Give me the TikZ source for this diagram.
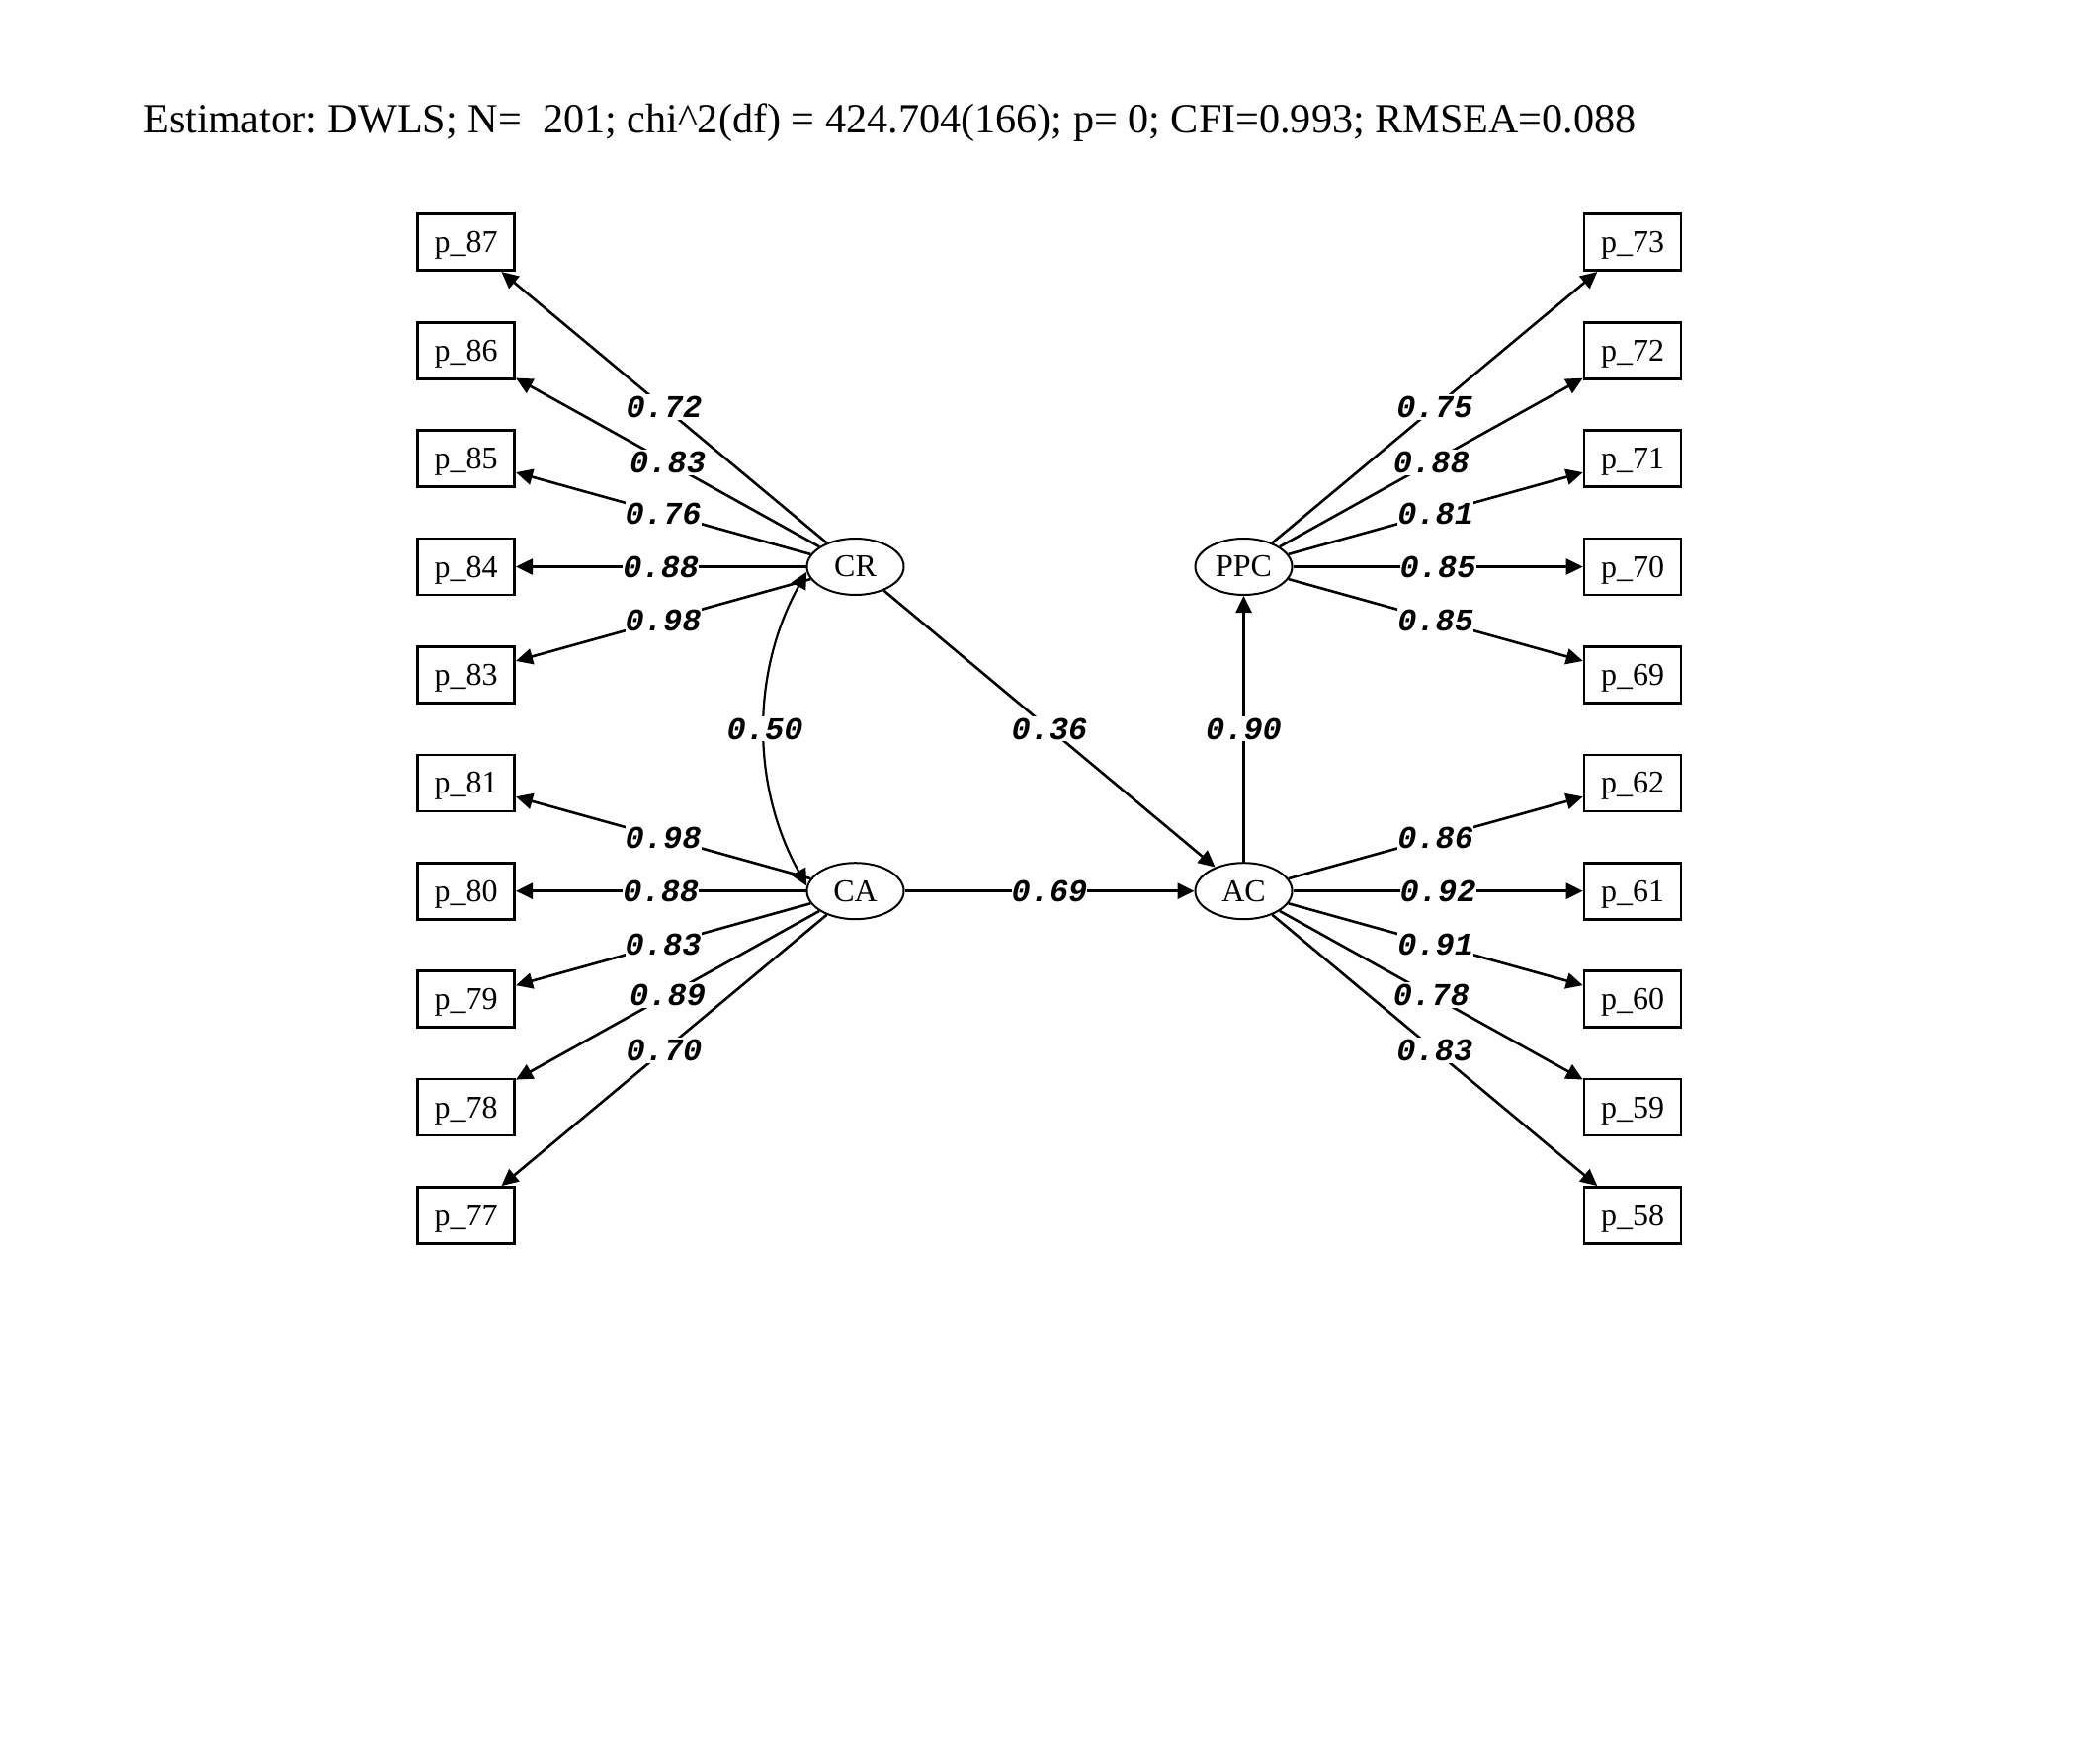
\documentclass[tikz,border=0pt]{standalone}
\usepackage{fontspec}
\setmainfont{Liberation Serif}
\newfontfamily\lblfont{Liberation Mono}
\usetikzlibrary{shapes.geometric,arrows.meta}
\frenchspacing
\begin{document}
\begin{tikzpicture}[x=0.5pt,y=-0.5pt,
  obs/.style={draw,line width=1.3pt,minimum width=49pt,minimum height=28.5pt,inner sep=0pt,text depth=0pt,font=\fontsize{16}{17}\selectfont},
  lat/.style={draw,ellipse,line width=1pt,minimum width=49pt,minimum height=28.5pt,inner sep=0pt,font=\fontsize{16}{17}\selectfont},
  tip/.tip={Triangle[length=8.5pt,width=8pt]},
  edge/.style={line width=1.3pt,-tip},
  lbl/.style={fill=white,inner xsep=0pt,inner ysep=1pt,font=\fontsize{16}{16}\lblfont\bfseries\itshape}]
\useasboundingbox (0,0) rectangle (2125,1771);
\node[anchor=base west,inner sep=0pt,font=\fontsize{21.1}{22}\selectfont] (title) at (145,135) {Estimator: DWLS; N=\ \ 201; chi\textasciicircum 2(df) = 424.704(166); p= 0; CFI=0.993; RMSEA=0.088};
% left indicators
\node[obs] (p87) at (471.7,245.3) {p\_87};
\node[obs] (p86) at (471.7,354.7) {p\_86};
\node[obs] (p85) at (471.7,464.1) {p\_85};
\node[obs] (p84) at (471.7,573.5) {p\_84};
\node[obs] (p83) at (471.7,682.9) {p\_83};
\node[obs] (p81) at (471.7,792.3) {p\_81};
\node[obs] (p80) at (471.7,901.7) {p\_80};
\node[obs] (p79) at (471.7,1011.1) {p\_79};
\node[obs] (p78) at (471.7,1120.5) {p\_78};
\node[obs] (p77) at (471.7,1229.9) {p\_77};
% right indicators
\node[obs] (p73) at (1652,245.3) {p\_73};
\node[obs] (p72) at (1652,354.7) {p\_72};
\node[obs] (p71) at (1652,464.1) {p\_71};
\node[obs] (p70) at (1652,573.5) {p\_70};
\node[obs] (p69) at (1652,682.9) {p\_69};
\node[obs] (p62) at (1652,792.3) {p\_62};
\node[obs] (p61) at (1652,901.7) {p\_61};
\node[obs] (p60) at (1652,1011.1) {p\_60};
\node[obs] (p59) at (1652,1120.5) {p\_59};
\node[obs] (p58) at (1652,1229.9) {p\_58};
% latents
\node[lat] (CR) at (865.5,573.5) {CR};
\node[lat] (CA) at (865.5,901.7) {CA};
\node[lat] (PPC) at (1258.5,573.5) {PPC};
\node[lat] (AC) at (1258.5,901.7) {AC};
% loadings
\draw[edge] (CR) -- node[lbl]{0.72} (p87);
\draw[edge] (CR) -- node[lbl]{0.83} (p86);
\draw[edge] (CR) -- node[lbl]{0.76} (p85);
\draw[edge] (CR) -- node[lbl]{0.88} (p84);
\draw[edge] (CR) -- node[lbl]{0.98} (p83);
\draw[edge] (CA) -- node[lbl]{0.98} (p81);
\draw[edge] (CA) -- node[lbl]{0.88} (p80);
\draw[edge] (CA) -- node[lbl]{0.83} (p79);
\draw[edge] (CA) -- node[lbl]{0.89} (p78);
\draw[edge] (CA) -- node[lbl]{0.70} (p77);
\draw[edge] (PPC) -- node[lbl]{0.75} (p73);
\draw[edge] (PPC) -- node[lbl]{0.88} (p72);
\draw[edge] (PPC) -- node[lbl]{0.81} (p71);
\draw[edge] (PPC) -- node[lbl]{0.85} (p70);
\draw[edge] (PPC) -- node[lbl]{0.85} (p69);
\draw[edge] (AC) -- node[lbl]{0.86} (p62);
\draw[edge] (AC) -- node[lbl]{0.92} (p61);
\draw[edge] (AC) -- node[lbl]{0.91} (p60);
\draw[edge] (AC) -- node[lbl]{0.78} (p59);
\draw[edge] (AC) -- node[lbl]{0.83} (p58);
% structural
\draw[edge] (CR) -- node[lbl]{0.36} (AC);
\draw[edge] (CA) -- node[lbl]{0.69} (AC);
\draw[edge] (AC) -- node[lbl]{0.90} (PPC);
\draw[line width=1.1pt,tip-tip] (CR.186) .. controls (760,680) and (760,795) .. node[lbl]{0.50} (CA.174);
\end{tikzpicture}
\end{document}
